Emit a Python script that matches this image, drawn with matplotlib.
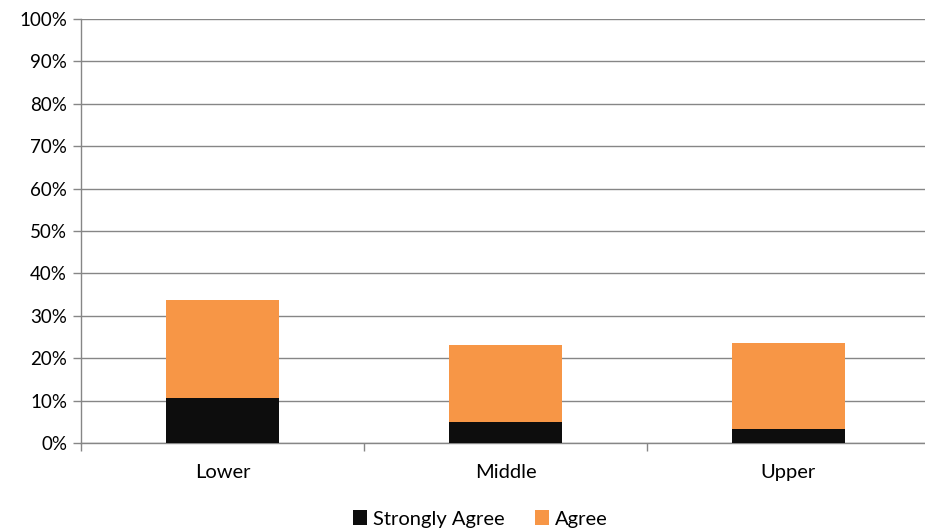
import matplotlib
matplotlib.use("Agg")
import matplotlib.pyplot as plt
import numpy as np
from matplotlib.ticker import PercentFormatter, FixedLocator

categories = ["Lower", "Middle", "Upper"]
strongly_agree = [10.6, 4.9, 3.4]
agree = [23.1, 18.1, 20.3]
yticks = list(range(0, 101, 10))

plt.rcParams['font.family'] = ['Lato', 'DejaVu Sans']

fig = plt.figure(figsize=(9.25, 5.31), dpi=100)
ax = fig.add_axes([81/925, 1-443/531, 849/925, 424/531])

x = np.arange(len(categories))
ax.bar(x, strongly_agree, width=0.40, color="#0d0d0d", label="Strongly Agree", zorder=3)
ax.bar(x, agree, width=0.40, bottom=strongly_agree, color="#f79646", label="Agree", zorder=3)

ax.set_xlim(-0.5, len(categories) - 0.5)
ax.set_ylim(0, 100)
ax.set_yticks(yticks)
ax.yaxis.set_major_formatter(PercentFormatter(decimals=0))
ax.grid(axis="y", color="#868686", linewidth=1, zorder=0)
ax.set_xticks(x)
ax.set_xticklabels(categories)
ax.xaxis.set_minor_locator(FixedLocator(np.arange(-0.5, len(categories), 1.0)))
ax.tick_params(axis="x", which="major", length=0, labelsize=14.5, pad=15)
ax.tick_params(axis="x", which="minor", length=6, color="#868686", width=1)
ax.tick_params(axis="y", length=6, color="#868686", width=1, labelsize=13.5, pad=4)
for s in ["top", "right"]:
    ax.spines[s].set_visible(False)
for s in ["left", "bottom"]:
    ax.spines[s].set_color("#868686")
    ax.spines[s].set_linewidth(1)

fig.legend(loc="center", bbox_to_anchor=(480/925, 1-519/531), ncol=2, frameon=False,
           fontsize=14.5, handlelength=0.7, handleheight=0.7, handletextpad=0.3, columnspacing=1.5)

fig.savefig("out.png", dpi=100)
